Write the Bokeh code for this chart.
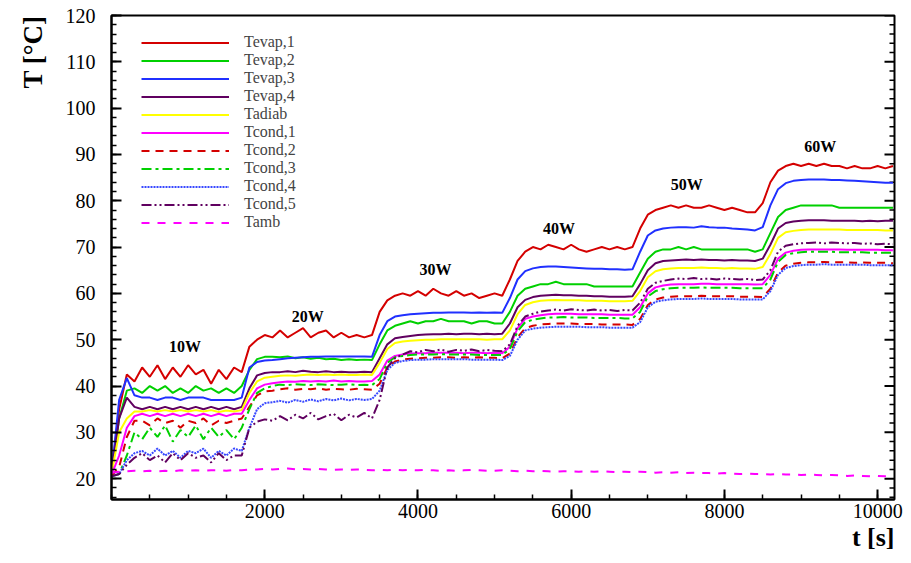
import math
from bokeh.plotting import figure
from bokeh.models import (Legend, LegendItem, FixedTicker, Title,
                          Range1d, ColumnDataSource, LabelSet)
from bokeh.embed import file_html
from bokeh.resources import INLINE
from bokeh.core.properties import value

# ---------------- data ----------------
t_s = list(range(0, 10201, 100))  # sampling instants [s]

tevap1 = [21, 35, 42.5, 41, 44, 42, 44.5, 41.5, 44, 42, 44.5, 42.5, 43.5, 40.5, 43.5, 41.5, 44, 43,
          48.5, 50, 51,
          50.5, 52, 50.5, 51.5, 52.5, 50.5, 51.5, 52, 50.5, 51.5, 50.5, 51, 50.5, 51,
          56, 58.5, 59.5,
          60, 59.5, 60.5, 59.5, 61, 60, 59.5, 60.5, 59.5, 60, 59, 59.5, 60, 59.5,
          63, 67, 69,
          70, 69.5, 70.5, 70, 69.5, 70.5, 69.5, 69, 69.5, 70, 69.5, 70, 69.5, 70,
          74, 77, 78,
          78.5, 79, 78.5, 79, 78.5, 78.5, 79, 78.5, 78, 78.5, 78, 77.5, 77.5, 79.5,
          84, 86.5, 87.5,
          88, 87.5, 88, 87.5, 88, 87.5, 87.5, 87, 87.5, 87, 87, 87.5, 87, 87.5]

tevap2 = [21, 33, 39, 39.5, 38.5, 40, 39, 40, 38.5, 39.5, 38.5, 40, 39, 39.5, 38.5, 39.5, 38.5, 40,
          43.5, 45.8, 46.3,
          46.3, 46.2, 46.4, 46, 46.2, 45.9, 46.1, 45.8, 45.9, 45.6, 45.8, 45.6, 45.7, 45.6,
          49, 52, 53,
          53.5, 54, 53.5, 54, 54, 54.5, 54, 54, 54, 53.5, 54, 54, 53.5, 53.5,
          56, 59.5, 61,
          61.5, 62, 62, 62.5, 62, 62, 62, 62, 61.5, 61.5, 61.5, 61.5, 61.5, 61.5,
          64.5, 67.5, 69,
          69.5, 69.5, 70, 69.5, 70, 69.5, 69.5, 69.5, 69.5, 69.5, 69.5, 69.5, 69, 69.5,
          73, 76.5, 78,
          78.5, 79, 79, 79, 79, 79, 78.5, 78.5, 78.5, 78.5, 78.5, 78.5, 78.5, 78.5]

tevap3 = [21, 37, 41.7, 38, 37.5, 37.5, 37, 37.5, 37.5, 37, 37.5, 37.5, 37.5, 37, 37, 37, 37, 37.5,
          44, 45.2, 45.5,
          45.6, 45.8, 46, 46.1, 46.2, 46.3, 46.3, 46.4, 46.4, 46.4, 46.4, 46.4, 46.4, 46.3,
          51, 54, 55,
          55.3, 55.5, 55.6, 55.7, 55.8, 55.8, 55.9, 55.9, 55.9, 55.8, 55.9, 55.8, 55.9, 55.8,
          59, 63, 64.8,
          65.4, 65.7, 65.8, 65.8, 65.7, 65.6, 65.5, 65.4, 65.3, 65.3, 65.2, 65.2, 65.1, 65.2,
          69, 72.5, 73.6,
          74, 74.2, 74.3, 74.3, 74.2, 74.5, 74.3, 74.2, 74.2, 74, 73.9, 73.8, 73.6, 74.3,
          79, 82.5, 83.8,
          84.3, 84.5, 84.6, 84.6, 84.6, 84.5, 84.5, 84.4, 84.3, 84.2, 84.1, 84, 83.9, 83.9]

tevap4 = [21, 33, 37.5, 35.5, 35, 35.5, 35, 35.5, 35, 35.5, 35, 35.5, 35, 35.5, 35, 35.5, 35, 35.5,
          39.5, 42.3, 42.8,
          43, 43, 43.2, 43, 43.3, 43.1, 43, 43.2, 43, 43.1, 43, 43, 43.1, 43,
          46, 49, 50.3,
          50.6, 50.8, 51, 51.1, 51.2, 51.2, 51.3, 51.2, 51.3, 51.3, 51.2, 51.3, 51.2, 51.3,
          53.5, 57, 58.6,
          59.2, 59.5, 59.6, 59.7, 59.6, 59.6, 59.5, 59.5, 59.4, 59.4, 59.3, 59.3, 59.3, 59.4,
          62, 65, 66.5,
          67, 67.1, 67.2, 67.3, 67.2, 67.3, 67.2, 67.2, 67.1, 67.2, 67.1, 67.1, 67, 67.5,
          70.5, 74, 75.2,
          75.5, 75.7, 75.8, 75.8, 75.8, 75.7, 75.7, 75.7, 75.7, 75.6, 75.7, 75.6, 75.7, 75.7]

tadiab = [21, 30, 33, 34.5, 34.5, 34.8, 34.5, 34.8, 34.5, 34.8, 34.5, 34.8, 34.5, 34.8, 34.4, 34.7, 34.5, 34.8,
          38.5, 41, 41.8,
          42, 42.2, 42.3, 42.2, 42.4, 42.5, 42.4, 42.5, 42.4, 42.5, 42.4, 42.4, 42.5, 42.4,
          45, 48, 49.3,
          49.6, 49.8, 49.9, 50, 50, 50.1, 50.1, 50.1, 50.1, 50.1, 50.1, 50, 50.1, 50.1,
          52, 55.5, 57.5,
          58.1, 58.4, 58.5, 58.6, 58.5, 58.5, 58.5, 58.4, 58.4, 58.4, 58.3, 58.3, 58.3, 58.4,
          60.5, 63.5, 64.8,
          65.2, 65.4, 65.5, 65.5, 65.5, 65.6, 65.5, 65.5, 65.4, 65.5, 65.4, 65.4, 65.3, 65.7,
          68.5, 72, 73.2,
          73.5, 73.7, 73.8, 73.8, 73.8, 73.8, 73.8, 73.7, 73.7, 73.7, 73.7, 73.7, 73.6, 73.6]

tcond1 = [20.8, 25, 31, 33.5, 34, 33.5, 34, 33.5, 34, 33.5, 34, 33.5, 34, 33.5, 34, 33.5, 34, 34,
          37, 39.5, 40.3,
          40.6, 40.8, 41, 40.9, 41.1, 41, 41.1, 41, 41.2, 41, 41.1, 41, 41, 41.1,
          42.5, 45.5, 46.5,
          46.8, 47, 47.1, 47.1, 47.2, 47.2, 47.2, 47.2, 47.1, 47.2, 47.2, 47.1, 47.2, 47.1,
          48.5, 52.5, 54.5,
          55, 55.3, 55.5, 55.6, 55.6, 55.6, 55.5, 55.5, 55.5, 55.5, 55.4, 55.4, 55.4, 55.4,
          57, 60, 61.3,
          61.7, 61.9, 62, 62, 62, 62.1, 62.1, 62, 62, 62, 62, 62, 61.9, 62,
          64, 67.5, 68.8,
          69.2, 69.4, 69.5, 69.5, 69.5, 69.5, 69.5, 69.4, 69.4, 69.4, 69.4, 69.4, 69.3, 69.3]

tcond2 = [20.5, 22.5, 29, 32.5, 32.5, 31.5, 33, 32, 32.5, 31, 32.5, 32, 33, 31.5, 32.5, 32, 32.5, 33,
          35.5, 38, 38.8,
          39, 39.3, 39.5, 39.2, 39.4, 39.3, 39.5, 39.2, 39.4, 39.3, 39.2, 39.4, 39.3, 39.2,
          40.5, 44, 45.3,
          45.7, 45.9, 46, 46.1, 46.1, 46.2, 46.2, 46.1, 46.2, 46.1, 46.2, 46.1, 46.1, 46,
          47, 50.5, 52.5,
          53, 53.3, 53.4, 53.5, 53.5, 53.5, 53.4, 53.4, 53.4, 53.3, 53.3, 53.3, 53.3, 53.2,
          54.5, 57.5, 58.7,
          59.1, 59.3, 59.4, 59.4, 59.4, 59.5, 59.4, 59.4, 59.4, 59.4, 59.3, 59.3, 59.3, 59.2,
          61, 64.5, 66,
          66.4, 66.6, 66.7, 66.7, 66.8, 66.7, 66.7, 66.7, 66.6, 66.7, 66.6, 66.6, 66.6, 66.5]

tcond3 = [20.5, 21, 25, 30, 28.5, 31, 29, 31.5, 28, 30.5, 29, 31.5, 28.5, 31, 29, 30.5, 28.5, 31,
          35, 38.5, 39.5,
          40, 40.3, 40.2, 40.4, 40.3, 40.2, 40.4, 40.3, 40.2, 40.3, 40.4, 40.2, 40.3, 40.2,
          41.5, 45, 46.2,
          46.5, 46.7, 46.8, 46.8, 46.8, 46.9, 46.8, 46.8, 46.8, 46.8, 46.7, 46.7, 46.7, 46.7,
          48, 51.8, 53.8,
          54.3, 54.6, 54.8, 54.8, 54.9, 54.8, 54.8, 54.8, 54.7, 54.7, 54.7, 54.7, 54.6, 54.6,
          56, 59.3, 60.5,
          60.9, 61.1, 61.2, 61.2, 61.2, 61.3, 61.2, 61.2, 61.2, 61.2, 61.1, 61.1, 61.1, 61.1,
          63, 66.8, 68.3,
          68.7, 68.9, 69, 69, 69, 69, 68.9, 68.9, 68.9, 68.9, 68.8, 68.8, 68.8, 68.8]

tcond4 = [20.5, 21, 24, 25.5, 26, 25, 26.5, 25, 26, 24.5, 26, 25.5, 26.5, 24.5, 26, 25, 26.5, 26,
          31, 35, 36.3,
          36.5, 36.8, 36.4, 37, 36.6, 37.1, 36.7, 37.2, 36.9, 37.3, 36.9, 37.2, 37, 37.2,
          39, 43.5, 45,
          45.4, 45.6, 45.7, 45.7, 45.8, 45.8, 45.8, 45.8, 45.8, 45.7, 45.7, 45.7, 45.7, 45.6,
          46.5, 50, 52,
          52.4, 52.6, 52.7, 52.8, 52.8, 52.8, 52.8, 52.7, 52.7, 52.7, 52.6, 52.6, 52.6, 52.6,
          53.8, 57, 58.2,
          58.5, 58.7, 58.8, 58.8, 58.8, 58.9, 58.8, 58.8, 58.8, 58.8, 58.7, 58.7, 58.7, 58.7,
          60.5, 64, 65.5,
          65.9, 66.1, 66.2, 66.2, 66.3, 66.2, 66.2, 66.2, 66.2, 66.2, 66.1, 66.1, 66.1, 66.1]

tcond5 = [20.5, 21, 23, 24.5, 25.5, 24, 25, 23.5, 25.5, 24, 25.5, 24.5, 25, 23.5, 25.5, 24, 25, 25,
          31, 32.3, 32.8,
          32.5, 33.5, 32.6, 33.8, 33, 34.2, 32.8, 33.5, 34, 32.6, 33.8, 33.2, 34.2, 33,
          37, 44, 46,
          46.8, 47.5, 47.3, 47.8, 47.5, 47.9, 47.4, 47.8, 47.6, 47.9, 47.5, 47.8, 47.6, 47.5,
          49, 53, 55,
          55.6, 56.1, 56.3, 56.5, 56.3, 56.6, 56.4, 56.3, 56.5, 56.3, 56.4, 56.2, 56.4, 56.3,
          58, 61, 62.3,
          62.7, 63, 63.2, 63.1, 63.3, 63.1, 63.2, 63, 63.2, 63.1, 63, 63.1, 62.9, 63,
          65, 69, 70.3,
          70.6, 70.8, 70.9, 71, 70.8, 71, 70.9, 70.8, 70.9, 70.7, 70.8, 70.6, 70.7, 70.6]

tamb = [21.3, 21.5, 21.6, 21.7, 21.6, 21.7, 21.6, 21.7, 21.6, 21.8, 21.7, 21.8, 21.7, 21.8, 21.8, 21.7, 21.9, 21.8,
        22.0, 22.0, 22.1,
        22.0, 22.1, 22.2, 22.0, 22.1, 22.0, 22.1, 22.0, 21.9, 22.0, 21.9, 22.0, 21.9, 21.8,
        21.9, 21.8, 21.9,
        21.8, 21.9, 21.8, 21.9, 21.8, 21.7, 21.8, 21.7, 21.8, 21.9, 21.8, 21.7, 21.7, 21.8,
        21.7, 21.6, 21.7,
        21.6, 21.7, 21.6, 21.5, 21.6, 21.6, 21.5, 21.6, 21.5, 21.6, 21.5, 21.4, 21.5, 21.4,
        21.5, 21.4, 21.3,
        21.4, 21.3, 21.4, 21.2, 21.3, 21.2, 21.2, 21.1, 21.2, 21.1, 21.0, 21.1, 21.0, 21.0,
        20.9, 21.0, 20.9,
        20.9, 20.8, 20.9, 20.8, 20.7, 20.8, 20.7, 20.6, 20.7, 20.6, 20.5, 20.6, 20.5, 20.5]

series_names = ["Tevap,1", "Tevap,2", "Tevap,3", "Tevap,4", "Tadiab",
                "Tcond,1", "Tcond,2", "Tcond,3", "Tcond,4", "Tcond,5", "Tamb"]
series_values = [tevap1, tevap2, tevap3, tevap4, tadiab,
                 tcond1, tcond2, tcond3, tcond4, tcond5, tamb]

power_labels = ["10W", "20W", "30W", "40W", "50W", "60W"]
power_label_t = [960, 2560, 4230, 5840, 7510, 9250]
power_label_T = [48.5, 55.1, 65.1, 74.0, 83.6, 91.7]

x_major_ticks = [2000, 4000, 6000, 8000, 10000]
x_minor_ticks = list(range(0, 10201, 500))
y_major_ticks = [20, 30, 40, 50, 60, 70, 80, 90, 100, 110, 120]
y_minor_ticks = list(range(16, 121, 2))

X_MAX = 10220
Y_MIN, Y_MAX = 15.5, 120

# ---------------- styles / layout ----------------
colors = ["#d40000", "#00d000", "#2030ff", "#600060", "#ffff00",
          "#ff00ff", "#d40000", "#00d000", "#3848ff", "#600060", "#ff00ff"]
dashes = ["solid", "solid", "solid", "solid", "solid",
          "solid", "8 6", "10 4 3 4", "2 1", "10 3 2 3 2 3", "8 8"]

SERIF = "Liberation Serif"
W, H = 903, 555
B_LEFT, B_RIGHT, B_TOP, B_BOTTOM = 107, 9, 15, 56

p = figure(width=W, height=H, output_backend="svg", toolbar_location=None,
           x_range=Range1d(0, X_MAX), y_range=Range1d(Y_MIN, Y_MAX),
           min_border_left=B_LEFT, min_border_right=B_RIGHT,
           min_border_top=B_TOP, min_border_bottom=B_BOTTOM)
p.background_fill_color = "white"
p.border_fill_color = "white"
p.grid.visible = False
p.outline_line_color = "black"
p.outline_line_width = 2

for ax in (p.xaxis[0], p.yaxis[0]):
    ax.axis_line_width = 2
    ax.axis_line_color = "black"
    ax.major_tick_in = 10
    ax.major_tick_out = 0
    ax.minor_tick_in = 5
    ax.minor_tick_out = 0
    ax.major_tick_line_width = 2
    ax.minor_tick_line_width = 1.5
    ax.major_label_text_font = SERIF
    ax.major_label_text_font_size = "20px"
    ax.major_label_text_color = "black"

p.xaxis.ticker = FixedTicker(ticks=x_major_ticks, minor_ticks=x_minor_ticks)
p.yaxis.ticker = FixedTicker(ticks=y_major_ticks, minor_ticks=y_minor_ticks)
p.xaxis.major_label_standoff = 4
p.yaxis.major_label_standoff = 16

# inward ticks along the right edge of the frame
minor_only = [v for v in y_minor_ticks if v not in y_major_ticks]
p.ray(x=[X_MAX] * len(y_major_ticks), y=y_major_ticks, length=10, length_units="screen",
      angle=math.pi, line_color="black", line_width=2)
p.ray(x=[X_MAX] * len(minor_only), y=minor_only, length=5, length_units="screen",
      angle=math.pi, line_color="black", line_width=1.5)

renderers = []
for name, vals, col, dash in zip(series_names, series_values, colors, dashes):
    src = ColumnDataSource(dict(t=t_s[:len(vals)], T=vals))
    r = p.line("t", "T", source=src, line_color=col, line_width=2, line_dash=dash)
    renderers.append((name, r))

frame_h = H - B_TOP - B_BOTTOM
legend_h = 11 * 17.7
legend = Legend(items=[LegendItem(label=n, renderers=[r]) for n, r in renderers],
                location=(30, int(frame_h - 21 - legend_h)), margin=0, padding=0, spacing=0,
                glyph_width=88, glyph_height=17, label_height=17, label_standoff=15,
                label_text_font=SERIF, label_text_font_size="16px",
                background_fill_alpha=0, border_line_alpha=0)
p.add_layout(legend)

lab_src = ColumnDataSource(dict(x=power_label_t, y=power_label_T, text=power_labels))
p.add_layout(LabelSet(x="x", y="y", text="text", source=lab_src,
                      text_font=value(SERIF), text_font_size="16px", text_font_style="bold",
                      text_align="center", text_baseline="middle", text_color="black"))

p.add_layout(Title(text="t [s]", align="right", text_font=SERIF, text_font_size="26px",
                   text_font_style="bold", text_color="black", standoff=0,
                   text_line_height=1.0), "below")
p.add_layout(Title(text="T [°C]", align="right", text_font=SERIF, text_font_size="27px",
                   text_font_style="bold", text_color="black", standoff=30,
                   text_line_height=1.0), "left")

open("out.html", "w").write(file_html(p, INLINE))
